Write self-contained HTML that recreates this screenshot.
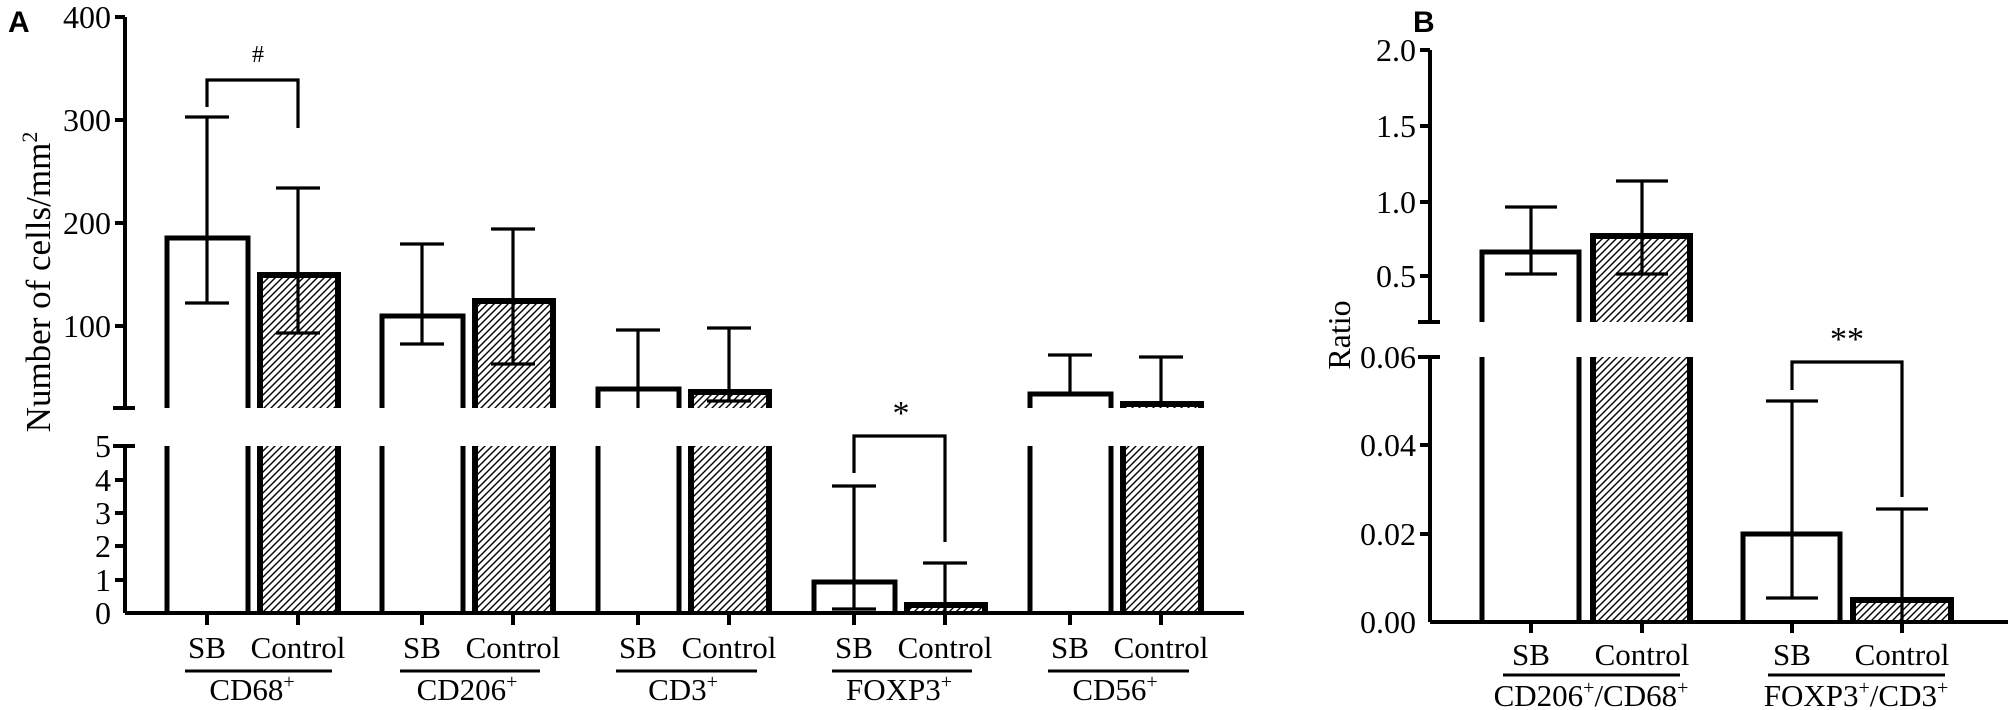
<!DOCTYPE html>
<html><head><meta charset="utf-8"><style>html,body{margin:0;padding:0;background:#fff}svg{display:block}</style></head>
<body>
<svg width="2008" height="710" viewBox="0 0 2008 710" xmlns="http://www.w3.org/2000/svg" font-family="'Liberation Serif',serif" fill="none" stroke="#000">
<defs>
<pattern id="h" patternUnits="userSpaceOnUse" width="7" height="7">
<path d="M-1,8 L8,-1 M-4,4 L4,-4 M3,11 L11,3" stroke="#000" stroke-width="1.4"/>
</pattern>
</defs>
<g fill="#000" stroke="none">
<text x="8" y="32" font-family="'Liberation Sans',sans-serif" font-weight="bold" font-size="30">A</text>
<text x="1413" y="32" font-family="'Liberation Sans',sans-serif" font-weight="bold" font-size="30">B</text>
<g font-size="32" text-anchor="end">
<text x="111" y="28">400</text><text x="111" y="131">300</text><text x="111" y="234">200</text><text x="111" y="337">100</text>
<text x="111" y="457">5</text><text x="111" y="491">4</text><text x="111" y="524">3</text><text x="111" y="557">2</text><text x="111" y="591">1</text><text x="111" y="624">0</text>
<text x="1416" y="61">2.0</text><text x="1416" y="137">1.5</text><text x="1416" y="213">1.0</text><text x="1416" y="287">0.5</text>
<text x="1416" y="368">0.06</text><text x="1416" y="456">0.04</text><text x="1416" y="545">0.02</text><text x="1416" y="633">0.00</text>
</g>
<text transform="translate(50,282) rotate(-90)" font-size="35" text-anchor="middle">Number of cells/mm<tspan font-size="22" dy="-13">2</tspan></text>
<text transform="translate(1350,335) rotate(-90)" font-size="32" text-anchor="middle">Ratio</text>
<g font-size="31" text-anchor="middle">
<text x="207" y="658">SB</text><text x="298" y="658">Control</text>
<text x="422" y="658">SB</text><text x="513" y="658">Control</text>
<text x="638" y="658">SB</text><text x="729" y="658">Control</text>
<text x="854" y="658">SB</text><text x="945" y="658">Control</text>
<text x="1070" y="658">SB</text><text x="1161" y="658">Control</text>
<text x="252" y="700">CD68<tspan font-size="20" dy="-12">+</tspan></text>
<text x="467" y="700">CD206<tspan font-size="20" dy="-12">+</tspan></text>
<text x="683" y="700">CD3<tspan font-size="20" dy="-12">+</tspan></text>
<text x="899" y="700">FOXP3<tspan font-size="20" dy="-12">+</tspan></text>
<text x="1115" y="700">CD56<tspan font-size="20" dy="-12">+</tspan></text>
<text x="1531" y="665">SB</text><text x="1642" y="665">Control</text>
<text x="1792" y="665">SB</text><text x="1902" y="665">Control</text>
<text x="1591" y="706">CD206<tspan font-size="20" dy="-12">+</tspan><tspan dy="12">/CD68</tspan><tspan font-size="20" dy="-12">+</tspan></text>
<text x="1856" y="706">FOXP3<tspan font-size="20" dy="-12">+</tspan><tspan dy="12">/CD3</tspan><tspan font-size="20" dy="-12">+</tspan></text>
<text x="258" y="62" font-size="24">#</text>
<text x="901" y="424" font-size="34">*</text>
<text x="1847" y="350" font-size="34">**</text>
</g>
</g>
<g stroke-width="3">
<path d="M185,671H332 M400,671H540 M616,671H757 M832,671H972 M1048,671H1189 M1503,675H1680 M1768,675H1945"/>
</g>
<g stroke-width="4">
<path d="M125,17V408 M113,408H135 M113,446H135 M125,446V613 M125,613H1244"/>
<path d="M115,17H125 M115,120H125 M115,223H125 M115,326H125 M115,480H125 M115,513H125 M115,546H125 M115,580H125"/>
<path d="M207,613V625 M298,613V625 M422,613V625 M513,613V625 M638,613V625 M729,613V625 M854,613V625 M945,613V625 M1070,613V625 M1161,613V625"/>
</g>
<g stroke-width="4">
<path d="M1430,50V322 M1418,322H1440 M1418,357H1440 M1430,357V622 M1430,622H2008"/>
<path d="M1420,50H1430 M1420,126H1430 M1420,202H1430 M1420,276H1430 M1420,445H1430 M1420,534H1430"/>
<path d="M1531,622V633 M1642,622V633 M1792,622V633 M1902,622V633"/>
</g>
<g stroke="none" fill="url(#h)">
<rect x="260" y="275" width="78" height="133"/><rect x="260" y="446" width="78" height="167"/>
<rect x="475" y="301" width="78" height="107"/><rect x="475" y="446" width="78" height="167"/>
<rect x="691" y="392" width="78" height="16"/><rect x="691" y="446" width="78" height="167"/>
<rect x="907" y="605" width="78" height="8"/>
<rect x="1123" y="404" width="78" height="4"/><rect x="1123" y="446" width="78" height="167"/>
<rect x="1593" y="236" width="97" height="86"/><rect x="1593" y="357" width="97" height="265"/>
<rect x="1853" y="600" width="98" height="22"/>
</g>
<g stroke-width="5">
<path d="M167,408V238H248V408 M167,446V613 M248,446V613"/>
<path d="M382,408V316H463V408 M382,446V613 M463,446V613"/>
<path d="M598,408V389H679V408 M598,446V613 M679,446V613"/>
<path d="M814,613V582H895V613"/>
<path d="M1030,408V394H1111V408 M1030,446V613 M1111,446V613"/>
<path d="M1482,322V252H1579V322 M1482,357V622 M1579,357V622"/>
<path d="M1743,622V534H1840V622"/>
</g>
<g stroke-width="6">
<path d="M260,408V275H338V408 M260,446V613 M338,446V613"/>
<path d="M475,408V301H553V408 M475,446V613 M553,446V613"/>
<path d="M691,408V392H769V408 M691,446V613 M769,446V613"/>
<path d="M907,613V605H985V613"/>
<path d="M1123,408V404H1201V408 M1123,446V613 M1201,446V613"/>
<path d="M1593,322V236H1690V322 M1593,357V622 M1690,357V622"/>
<path d="M1853,622V600H1951V622"/>
</g>
<g stroke-width="3.2">
<path d="M207,117V303 M185,117H229 M185,303H229"/>
<path d="M298,188V333 M276,188H320 M276,333H320"/>
<path d="M422,244V344 M400,244H444 M400,344H444"/>
<path d="M513,229V364 M491,229H535 M491,364H535"/>
<path d="M638,330V408 M616,330H660"/>
<path d="M729,328V401 M707,328H751 M707,401H751"/>
<path d="M854,486V609 M832,486H876 M832,609H876"/>
<path d="M945,563V613 M923,563H967"/>
<path d="M1070,355V394 M1048,355H1092"/>
<path d="M1161,357V404 M1139,357H1183"/>
<path d="M1531,207V274 M1505,207H1557 M1505,274H1557"/>
<path d="M1642,181V274 M1616,181H1668 M1616,274H1668"/>
<path d="M1792,401V598 M1766,401H1818 M1766,598H1818"/>
<path d="M1902,509V622 M1876,509H1928"/>
<path d="M207,107V80H298V128"/>
<path d="M854,473V436H945V542"/>
<path d="M1792,390V362H1902V497"/>
</g>
</svg>
</body></html>
